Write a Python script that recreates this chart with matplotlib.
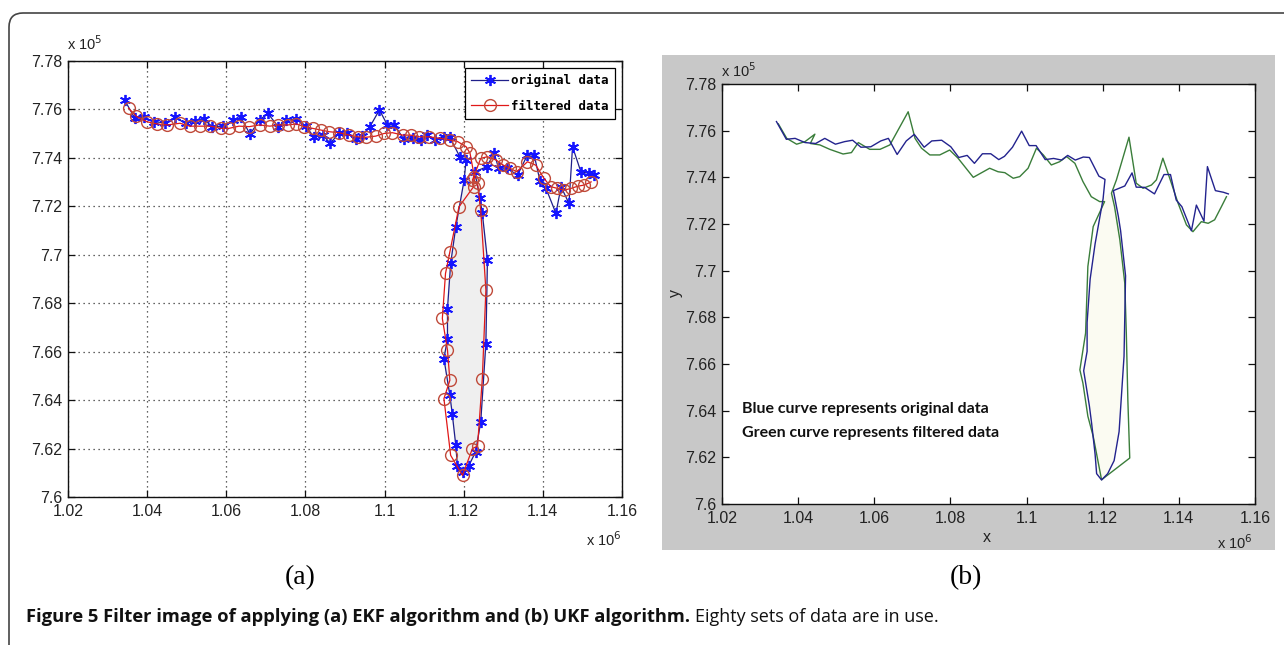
import matplotlib
matplotlib.use("Agg")
import matplotlib.pyplot as plt
from matplotlib.patches import FancyBboxPatch, Rectangle
import numpy as np

# ---------------- data (x in units of 1e6, y in units of 1e5) ----------------
orig_x = [1.0343, 1.0369, 1.0392, 1.0418, 1.0446, 1.0470, 1.0498, 1.0522, 1.0543, 1.0565,
          1.0591, 1.0617, 1.0637, 1.0660, 1.0684, 1.0705, 1.0731, 1.0751, 1.0777, 1.0801,
          1.0822, 1.0844, 1.0863, 1.0884, 1.0906, 1.0927, 1.0942, 1.0963, 1.0987, 1.1007,
          1.1025, 1.1049, 1.1071, 1.1092, 1.1108, 1.1128, 1.1149, 1.1165, 1.1190, 1.1206,
          1.1201, 1.1180, 1.1167, 1.1159, 1.1159, 1.1150, 1.1165, 1.1171, 1.1180, 1.1184,
          1.1197, 1.1213, 1.1230, 1.1243, 1.1256, 1.1260, 1.1247, 1.1241, 1.1228, 1.1258,
          1.1277, 1.1288, 1.1310, 1.1336, 1.1361, 1.1378, 1.1393, 1.1408, 1.1433, 1.1446,
          1.1466, 1.1475, 1.1496, 1.1517, 1.1530]
orig_y = [7.7639, 7.7563, 7.7567, 7.7549, 7.7545, 7.7567, 7.7542, 7.7553, 7.7559, 7.7529,
          7.7531, 7.7556, 7.7567, 7.7498, 7.7556, 7.7584, 7.7529, 7.7556, 7.7559, 7.7531,
          7.7485, 7.7494, 7.7460, 7.7501, 7.7501, 7.7476, 7.7490, 7.7529, 7.7598, 7.7536,
          7.7536, 7.7476, 7.7481, 7.7474, 7.7494, 7.7474, 7.7487, 7.7485, 7.7405, 7.7391,
          7.7308, 7.7115, 7.6964, 7.6778, 7.6654, 7.6571, 7.6420, 7.6344, 7.6213, 7.6130,
          7.6103, 7.6130, 7.6186, 7.6310, 7.6633, 7.6978, 7.7171, 7.7233, 7.7343, 7.7363,
          7.7419, 7.7358, 7.7357, 7.7329, 7.7412, 7.7412, 7.7303, 7.7274, 7.7171, 7.7281,
          7.7212, 7.7446, 7.7343, 7.7336, 7.7329]

ekf_x = [1.0353, 1.0373, 1.0400, 1.0426, 1.0451, 1.0483, 1.0508, 1.0534, 1.0560, 1.0586,
         1.0607, 1.0632, 1.0658, 1.0684, 1.0710, 1.0731, 1.0756, 1.0777, 1.0797, 1.0818,
         1.0839, 1.0860, 1.0885, 1.0911, 1.0932, 1.0953, 1.0978, 1.0999, 1.1020, 1.1046,
         1.1066, 1.1087, 1.1113, 1.1139, 1.1165, 1.1185, 1.1206, 1.1216, 1.1227, 1.1225,
         1.1188, 1.1165, 1.1154, 1.1146, 1.1159, 1.1165, 1.1150, 1.1167, 1.1197, 1.1222,
         1.1235, 1.1247, 1.1256, 1.1243, 1.1235, 1.1222, 1.1243, 1.1260, 1.1282, 1.1300,
         1.1317, 1.1334, 1.1361, 1.1382, 1.1403, 1.1420, 1.1437, 1.1454, 1.1471, 1.1488,
         1.1505, 1.1522]
ekf_y = [7.7605, 7.7571, 7.7549, 7.7540, 7.7536, 7.7543, 7.7531, 7.7531, 7.7531, 7.7522,
         7.7522, 7.7531, 7.7529, 7.7536, 7.7531, 7.7536, 7.7536, 7.7540, 7.7529, 7.7522,
         7.7515, 7.7508, 7.7504, 7.7494, 7.7487, 7.7485, 7.7490, 7.7501, 7.7504, 7.7494,
         7.7494, 7.7487, 7.7487, 7.7481, 7.7474, 7.7467, 7.7446, 7.7419, 7.7322, 7.7281,
         7.7198, 7.7012, 7.6923, 7.6737, 7.6606, 7.6482, 7.6406, 7.6172, 7.6089, 7.6200,
         7.6210, 7.6489, 7.6854, 7.7184, 7.7295, 7.7308, 7.7398, 7.7405, 7.7391, 7.7370,
         7.7357, 7.7343, 7.7384, 7.7370, 7.7315, 7.7281, 7.7274, 7.7267, 7.7274, 7.7283,
         7.7288, 7.7301]

ukf_x = [1.0348, 1.0370, 1.0396, 1.0418, 1.0444, 1.0432, 1.0457, 1.0483, 1.0518, 1.0540,
         1.0558, 1.0588, 1.0615, 1.0641, 1.0689, 1.0707, 1.0724, 1.0746, 1.0772, 1.0798,
         1.0820, 1.0860, 1.0903, 1.0925, 1.0943, 1.0965, 1.0982, 1.1004, 1.1026, 1.1044,
         1.1065, 1.1087, 1.1105, 1.1127, 1.1148, 1.1170, 1.1192, 1.1205, 1.1175, 1.1161,
         1.1155, 1.1140, 1.1148, 1.1161, 1.1175, 1.1197, 1.1271, 1.1266, 1.1262, 1.1258,
         1.1245, 1.1231, 1.1223, 1.1236, 1.1269, 1.1288, 1.1306, 1.1328, 1.1341, 1.1358,
         1.1376, 1.1398, 1.1420, 1.1437, 1.1459, 1.1477, 1.1494, 1.1512, 1.1525]
ukf_y = [7.7629, 7.7567, 7.7542, 7.7553, 7.7585, 7.7545, 7.7539, 7.7520, 7.7500, 7.7506,
         7.7549, 7.7520, 7.7520, 7.7539, 7.7681, 7.7567, 7.7525, 7.7496, 7.7496, 7.7517,
         7.7482, 7.7400, 7.7439, 7.7424, 7.7420, 7.7396, 7.7403, 7.7439, 7.7525, 7.7496,
         7.7453, 7.7467, 7.7489, 7.7460, 7.7382, 7.7317, 7.7296, 7.7296, 7.7189, 7.7018,
         7.6732, 7.6575, 7.6518, 7.6376, 7.6290, 7.6104, 7.6197, 7.6447, 7.6732, 7.6946,
         7.7132, 7.7275, 7.7332, 7.7389, 7.7572, 7.7375, 7.7353, 7.7367, 7.7389, 7.7482,
         7.7396, 7.7289, 7.7196, 7.7167, 7.7210, 7.7203, 7.7218, 7.7275, 7.7317]

x_ticks = [1.02, 1.04, 1.06, 1.08, 1.10, 1.12, 1.14, 1.16]
x_tick_labels = ["1.02", "1.04", "1.06", "1.08", "1.1", "1.12", "1.14", "1.16"]
y_ticks = [7.60, 7.62, 7.64, 7.66, 7.68, 7.70, 7.72, 7.74, 7.76, 7.78]
y_tick_labels = ["7.6", "7.62", "7.64", "7.66", "7.68", "7.7", "7.72", "7.74", "7.76", "7.78"]
legend_labels = ["original data", "filtered data"]
loop_slice = slice(40, 59)

# ---------------- figure ----------------
W, H = 1284, 645
fig = plt.figure(figsize=(W / 100, H / 100), dpi=100)
fig.patch.set_facecolor("white")

def fx(x):
    return x / W

def fy(y):
    return 1 - y / H

# outer rounded border (open to right/bottom)
fig.patches.append(FancyBboxPatch((9, -40), 1340, 672, boxstyle="round,pad=0,rounding_size=14",
                                  transform=None, fill=False, ec="#444444", lw=1.2, zorder=-2))
# grey background of panel (b)
fig.patches.append(Rectangle((fx(662), fy(550)), (1275 - 662) / W, (550 - 55) / H,
                             transform=fig.transFigure, fc="#c8c8c8", ec="none", zorder=-1))

tick_font = dict(family="Liberation Sans", size=11.5)

def style_axes(ax):
    ax.set_xlim(1.02, 1.16)
    ax.set_ylim(7.60, 7.78)
    ax.set_xticks(x_ticks)
    ax.set_xticklabels(x_tick_labels, **tick_font)
    ax.set_yticks(y_ticks)
    ax.set_yticklabels(y_tick_labels, **tick_font)
    ax.tick_params(direction="in", top=True, right=True, length=5, width=0.9,
                   color="#111111", labelcolor="#222222")
    ax.tick_params(axis="y", pad=4)
    ax.tick_params(axis="x", pad=5)
    for s in ax.spines.values():
        s.set_linewidth(1.0)
        s.set_color("#111111")

# ---------------- panel (a) ----------------
ax1 = fig.add_axes([fx(68), fy(497), (622 - 68) / W, (497 - 61) / H])
style_axes(ax1)
ax1.grid(True, color="#333333", linestyle=(0, (1, 3)), linewidth=0.9)
ax1.set_axisbelow(True)
ax1.fill(orig_x[loop_slice], orig_y[loop_slice], color="#efefef", zorder=1)
l1, = ax1.plot(orig_x, orig_y, "-", color="#1f1f8a", lw=0.9, marker=(6, 2, 0), ms=8,
               mec="#1515ff", mew=1.3, zorder=3, label=legend_labels[0])
l2, = ax1.plot(ekf_x, ekf_y, "-", color="#e01818", lw=0.9, marker="o", ms=8.5,
               mfc="none", mec="#c04a3a", mew=1.0, zorder=4, label=legend_labels[1])
leg = ax1.legend(loc="upper right", bbox_to_anchor=(1, 1), borderaxespad=0.55,
                 prop=dict(family="DejaVu Sans Mono", weight="bold", size=9),
                 fancybox=False, edgecolor="black", framealpha=1, handlelength=2.9,
                 labelspacing=1.0, handletextpad=0.3, borderpad=0.5)
leg.get_frame().set_linewidth(0.9)

fig.text(fx(67), fy(50), r"x 10$^{5}$", family="Liberation Sans", size=10.5, color="#222222",
         ha="left", va="baseline")
fig.text(fx(586), fy(546), r"x 10$^{6}$", family="Liberation Sans", size=10.5, color="#222222",
         ha="left", va="baseline")

# ---------------- panel (b) ----------------
ax2 = fig.add_axes([fx(722), fy(504), (1255 - 722) / W, (504 - 84) / H])
ax2.set_facecolor("white")
style_axes(ax2)
ax2.fill(orig_x[loop_slice], orig_y[loop_slice], color="#fbfbf2", zorder=1)
ax2.plot(orig_x, orig_y, "-", color="#23238e", lw=1.0, zorder=3)
ax2.plot(ukf_x, ukf_y, "-", color="#3a7d3a", lw=1.0, zorder=2)
ax2.text(0.038, 0.227, "Blue curve represents original data", transform=ax2.transAxes,
         family="Lato", weight="bold", size=11.5, color="#111111", va="center")
ax2.text(0.038, 0.170, "Green curve represents filtered data", transform=ax2.transAxes,
         family="Lato", weight="bold", size=11.5, color="#111111", va="center")
fig.text(fx(721), fy(77), r"x 10$^{5}$", family="Liberation Sans", size=10.5, color="#222222",
         ha="left", va="baseline")
fig.text(fx(1217), fy(549), r"x 10$^{6}$", family="Liberation Sans", size=10.5, color="#222222",
         ha="left", va="baseline")
fig.text(fx(987), fy(538), "x", family="Liberation Sans", size=11.5, color="#222222",
         ha="center", va="center")
fig.text(fx(675), fy(293), "y", family="Liberation Sans", size=11.5, color="#222222",
         ha="center", va="center", rotation=90)

# ---------------- sub labels & caption ----------------
fig.text(fx(300), fy(578), "(a)", family="Liberation Serif", size=20, ha="center", va="center")
fig.text(fx(966), fy(578), "(b)", family="Liberation Serif", size=20, ha="center", va="center")

cap1 = fig.text(fx(26), fy(617), "Figure 5 Filter image of applying (a) EKF algorithm and (b) UKF algorithm.",
                family="Open Sans", weight="bold", size=13.2, va="center", ha="left", color="#111111")
fig.canvas.draw()
bb = cap1.get_window_extent(renderer=fig.canvas.get_renderer())
fig.text((bb.x1 + 5) / W, fy(617), "Eighty sets of data are in use.", family="Open Sans",
         size=13, va="center", ha="left", color="#111111")

fig.savefig("out.png", dpi=100)
